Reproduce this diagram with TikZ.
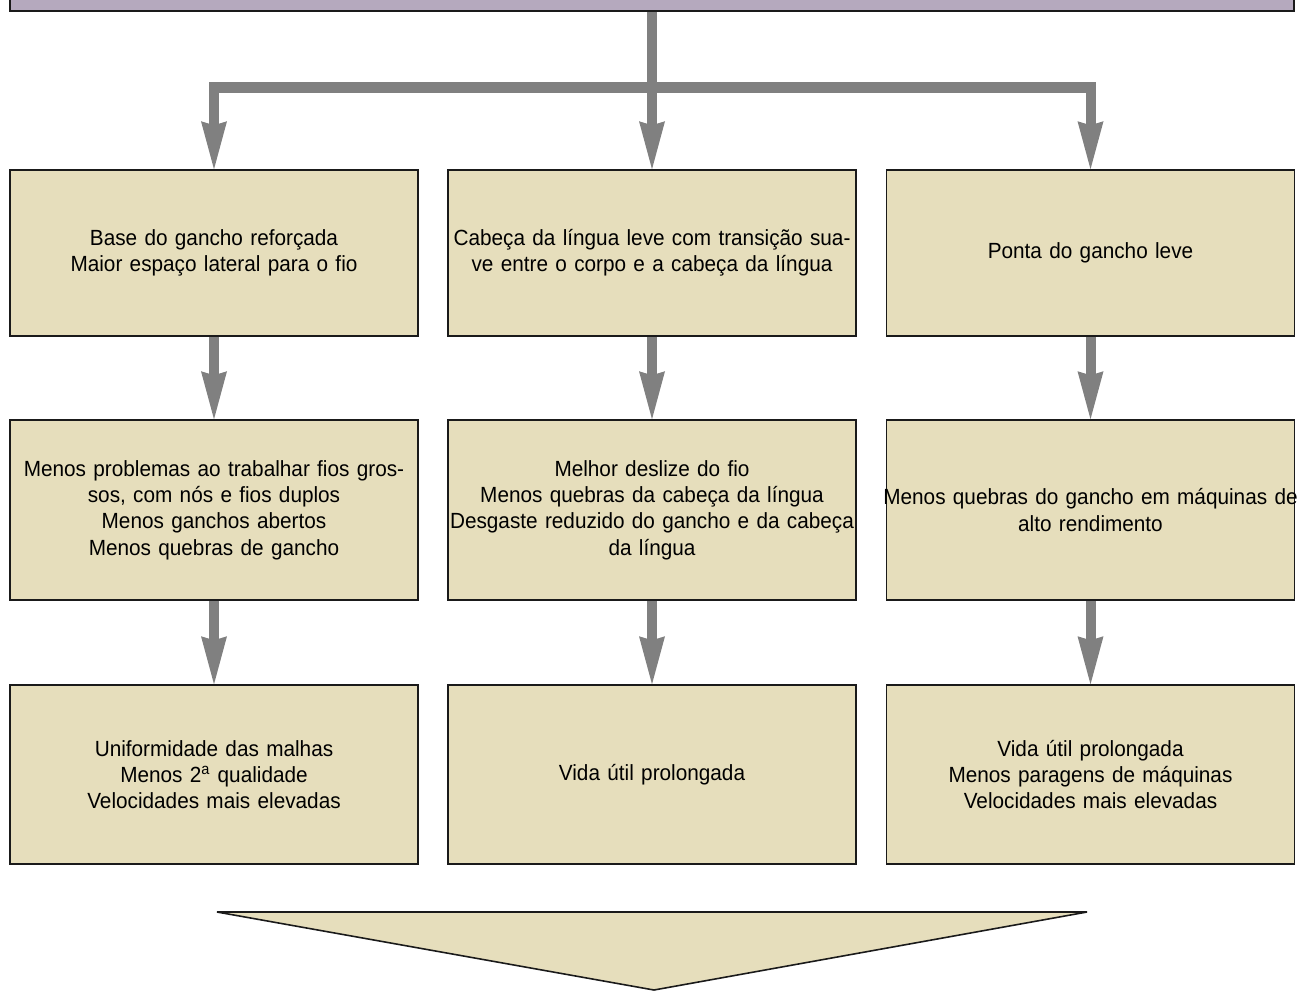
\documentclass[tikz,border=0pt]{standalone}
\usepackage{fontspec}
\setmainfont{Liberation Sans}[FakeStretch=0.945]
\usepackage{tikz}
\usetikzlibrary{arrows.meta,positioning}

\definecolor{boxfill}{HTML}{E6DEBC}
\definecolor{barfill}{HTML}{B5A9BE}
\definecolor{arrowgray}{HTML}{808080}
\definecolor{edgeline}{HTML}{1A1A1A}

\tikzset{
  box/.style={draw=edgeline, fill=boxfill, line width=0.9pt, text width=8.16cm,
    align=center, inner sep=0pt, font=\fontsize{12.5}{15}\selectfont},
  topbar/.style={draw=edgeline, fill=barfill, line width=0.9pt, minimum width=25.68cm,
    minimum height=0.68cm, inner sep=0pt},
  stem/.style={draw=arrowgray, line width=0.2cm},
  bar/.style={draw=arrowgray, line width=0.22cm, line cap=rect},
  flow/.style={stem, -{Stealth[length=0.96cm, width=0.52cm, inset=0.08cm, line width=0pt]}},
  funnel/.style={draw=edgeline, fill=boxfill, line width=0.9pt, line join=miter}
}

\begin{document}
\begin{tikzpicture}[x=0.02cm, y=-0.02cm]
    \useasboundingbox (0,0) rectangle (1297,991);

    % top bar, cut by the page edge
    \node[topbar] (top) at (652,-6) {};

    % first row
    \node[box, minimum height=3.32cm] (b11) at (214,253)
        {Base do gancho reforçada\\Maior espaço lateral para o fio};
    \node[box, minimum height=3.32cm] (b12) at (652,253)
        {Cabeça da língua leve com transição sua-\\ve entre o corpo e a cabeça da língua};
    \node[box, minimum height=3.32cm] (b13) at (1090.5,253)
        {Ponta do gancho leve};

    % second row
    \node[box, minimum height=3.6cm] (b21) at (214,510)
        {Menos problemas ao trabalhar fios gros-\\sos, com nós e fios duplos\\Menos ganchos abertos\\Menos quebras de gancho};
    \node[box, minimum height=3.6cm] (b22) at (652,510)
        {Melhor deslize do fio\\Menos quebras da cabeça da língua\\\makebox[\linewidth]{Desgaste reduzido do gancho e da cabeça}\\da língua};
    \node[box, minimum height=3.6cm] (b23) at (1090.5,510)
        {\makebox[\linewidth]{Menos quebras do gancho em máquinas de}\\alto rendimento};

    % third row
    \node[box, minimum height=3.58cm] (b31) at (214,774.5)
        {Uniformidade das malhas\\Menos 2\textsuperscript{a} qualidade\\Velocidades mais elevadas};
    \node[box, minimum height=3.58cm] (b32) at (652,774.5)
        {Vida útil prolongada};
    \node[box, minimum height=3.58cm] (b33) at (1090.5,774.5)
        {Vida útil prolongada\\Menos paragens de máquinas\\Velocidades mais elevadas};

    % branching from the top bar
    \coordinate (split) at (652,87);
    \draw[stem] (top.south) -- (split);
    \draw[bar] (b11.north |- split) -- (b13.north |- split);
    \draw[flow] (b11.north |- split) -- (b11.north);
    \draw[flow] (split) -- (b12.north);
    \draw[flow] (b13.north |- split) -- (b13.north);

    % row to row
    \draw[flow] (b11) -- (b21);
    \draw[flow] (b12) -- (b22);
    \draw[flow] (b13) -- (b23);
    \draw[flow] (b21) -- (b31);
    \draw[flow] (b22) -- (b32);
    \draw[flow] (b23) -- (b33);

    % big arrow at the bottom
    \draw[funnel] (217,912) -- (1087,912) -- (654,990) -- cycle;
\end{tikzpicture}
\end{document}
